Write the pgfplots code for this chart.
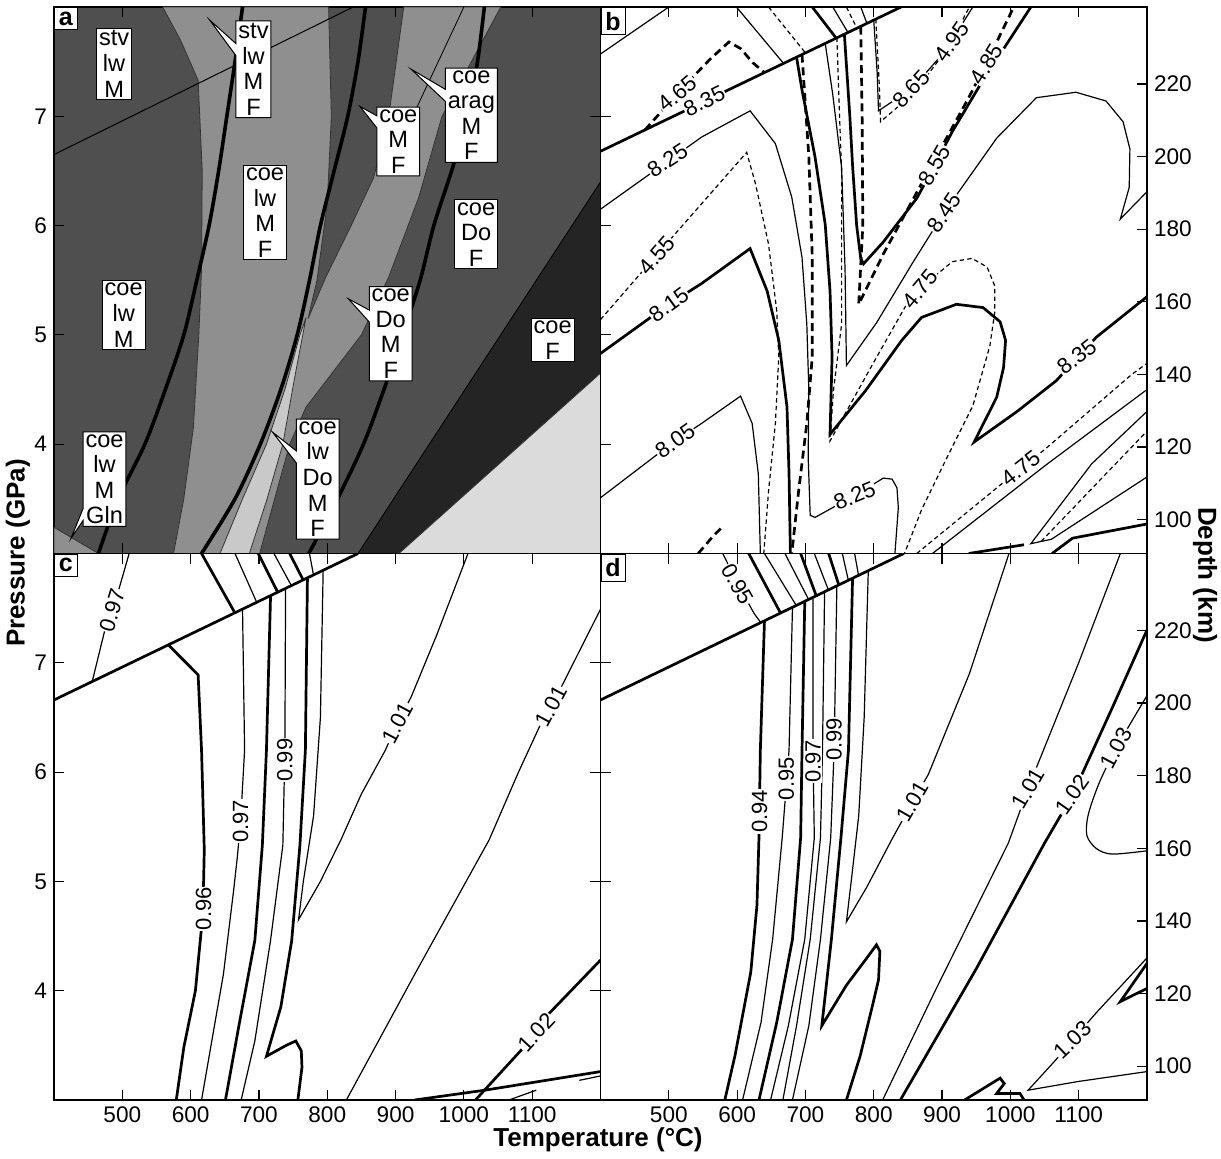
\documentclass[border=0pt]{standalone}
\usepackage{fontspec}
\setmainfont{Liberation Sans}
\usepackage{pgfplots}
\pgfplotsset{compat=1.18}
\usetikzlibrary{shapes.callouts}

\definecolor{cD}{gray}{0.31}
\definecolor{cM}{gray}{0.56}
\definecolor{cL}{gray}{0.79}
\definecolor{cX}{gray}{0.14}
\definecolor{cW}{gray}{0.86}

\newcommand\tf{\fontsize{11.3}{13}\selectfont}
\newcommand\lf{\fontsize{11}{13}\selectfont}
\newcommand\boxfont{\fontsize{11.8}{12.8}\selectfont}

\tikzset{
  thk/.style={black,line width=1.35pt},
  thn/.style={black,line width=0.6pt},
  thkd/.style={black,line width=1.35pt,dash pattern=on 4pt off 2.4pt},
  thnd/.style={black,line width=0.6pt,dash pattern=on 2.2pt off 1.6pt},
  cl/.style={fill=white,inner sep=0.4pt,font=\lf},
  ab/.style={draw=black,line width=0.5pt,fill=white,inner sep=1.2pt,align=center,font=\boxfont},
  co/.style={ab,rectangle callout,callout pointer width=6pt},
  pl/.style={draw=black,line width=0.5pt,fill=white,inner sep=2.2pt,font=\bfseries\fontsize{12.5}{13}\selectfont,anchor=north west},
}

\pgfplotsset{
  panel/.style={width=273.25pt,height=273.25pt,scale only axis,
    xmin=400,xmax=1200,ymin=3,ymax=8,
    xtick={500,600,...,1100},ytick={4,5,6,7},
    tick align=inside,major tick length=5pt,
    tick style={black,line width=0.6pt},
    axis line style={black,line width=0.9pt},
    ticklabel style={font=\tf},
    /pgf/number format/assume math mode=true,
    /pgf/number format/1000 sep={},
    xtick pos=both,ytick pos=both,
    xticklabel pos=lower,yticklabel pos=left},
  depth/.style={width=273.25pt,height=273.25pt,scale only axis,
    xmin=400,xmax=1200,ymin=90.67,ymax=241.2,
    hide x axis,axis y line*=right,
    ytick={100,120,...,220},
    tick align=inside,major tick length=5pt,
    tick style={black,line width=0.6pt},
    axis line style={black,line width=0.9pt},
    ticklabel style={font=\tf},
    /pgf/number format/assume math mode=true},
}

\begin{document}
\begin{tikzpicture}
\path[use as bounding box] (-27pt,-29pt) rectangle (583.5pt,550pt);

% ---------------- Panel a ----------------
\begin{axis}[panel,at={(0pt,273.25pt)},anchor=south west,xticklabels={},
  axis background/.style={fill=cD}]
\addplot[fill=cM,draw=black!80,line width=0.4pt] coordinates {
 (575,3.0) (590,3.5) (604,4.15) (612,5.0) (616,5.6) (617,6.5) (611,7.33) (585,7.7) (559,8.0)
 (802,8.0) (806,7.0) (800,6.2) (785,5.5) (772,5.15)
 (798,5.53) (835,6.0) (868,6.44) (890,7.0) (912,8.0)
 (1054,8.0) (968,7.0) (934,6.26) (890,5.53) (850,5.0) (769,4.34) (745,4.0) (701,3.0)} --cycle;
\addplot[fill=cL,draw=black!80,line width=0.4pt] coordinates {
 (643,3.0) (676,3.5) (711,4.0) (738,4.5) (760,5.0) (769,5.16) (752,4.6) (735,4.0) (712,3.5) (686,3.0)} --cycle;
\addplot[fill=cM,draw=black!80,line width=0.4pt] coordinates {(400,3.0) (400,3.24) (465,3.0)} --cycle;
\addplot[fill=cX,draw=black,line width=0.4pt] coordinates {(845,3.0) (1200,6.4) (1200,3.0)} --cycle;
\addplot[fill=cW,draw=black!80,line width=0.4pt] coordinates {(905,3.0) (1200,4.65) (1200,3.0)} --cycle;
\addplot[black,line width=0.5pt] coordinates {(400,6.65) (838,8.0)};
\addplot[black,line width=0.4pt] coordinates {(1000,8.0) (925,7.0)};
\addplot[black,line width=1.8pt,smooth] coordinates {(465,3.0) (494,3.5) (533,4.0) (563,4.5) (590,5.0) (609,5.5) (627,6.0) (641,6.5) (653,7.0) (665,7.5) (676,8.0)};
\addplot[black,line width=1.8pt,smooth] coordinates {(616,3.0) (665,3.5) (702,4.0) (732,4.5) (756,5.0) (774,5.5) (790,6.0) (810,6.5) (830,7.0) (845,7.5) (856,8.0)};
\addplot[black,line width=1.8pt,smooth] coordinates {(773,3.0) (815,3.5) (853,4.0) (883,4.5) (910,5.0) (936,5.5) (956,6.0) (982,6.5) (1005,7.0) (1020,7.5) (1030,8.0)};
\node[ab] at (axis cs:488,7.48) {stv\\lw\\M};
\node[co,callout absolute pointer={(axis cs:628,7.88)}] at (axis cs:692,7.43) {stv\\lw\\M\\F};
\node[co,callout absolute pointer={(axis cs:848,7.09)}] at (axis cs:904,6.77) {coe\\M\\F};
\node[co,callout absolute pointer={(axis cs:923,7.43)}] at (axis cs:1011,7.01) {coe\\arag\\M\\F};
\node[ab] at (axis cs:709,6.12) {coe\\lw\\M\\F};
\node[ab] at (axis cs:1018,5.92) {coe\\Do\\F};
\node[ab] at (axis cs:502,5.18) {coe\\lw\\M};
\node[co,callout absolute pointer={(axis cs:831,5.33)}] at (axis cs:893,5.01) {coe\\Do\\M\\F};
\node[ab] at (axis cs:1130,4.95) {coe\\F};
\node[co,callout absolute pointer={(axis cs:425,3.14)}] at (axis cs:474,3.68) {coe\\lw\\M\\Gln};
\node[co,callout absolute pointer={(axis cs:720,4.11)}] at (axis cs:786,3.68) {coe\\lw\\Do\\M\\F};
\node[pl] at (rel axis cs:0,1) {a};
\end{axis}

% ---------------- Panel b ----------------
\begin{axis}[panel,at={(273.25pt,273.25pt)},anchor=south west,xticklabels={},yticklabels={},ytick pos=left]
\addplot[thk] coordinates {(400,6.68) (840,8.0)};
\addplot[thkd] coordinates {(465,6.875) (520,7.26) (560,7.52) (588,7.68) (605,7.62) (623,7.49) (640,7.40)};
\addplot[thn] coordinates {(400,7.57) (500,8.0)};
\addplot[thn] coordinates {(599,8.0) (668,7.484)};
\addplot[thnd] coordinates {(646,8.0) (700,7.58)};
\addplot[thk] coordinates {(710,8.0) (745,7.715)};
\addplot[thn] coordinates {(740,8.0) (762,7.77)};
\addplot[thnd] coordinates {(760,8.0) (775,7.81)};
\addplot[thn] coordinates {(781,8.0) (790,7.85)};
% V1 8.25
\addplot[thn] coordinates {(400,6.15) (548,6.81) (619,7.05) (656,6.75) (680,6.26) (695,5.71) (702,5.10) (705,4.49) (704,3.88) (707,3.35) (714,3.33) (740,3.42) (778,3.55) (814,3.69) (827,3.68) (834,3.6) (836,3.42) (831,3.0)};
% V2 4.55
\addplot[thnd] coordinates {(400,5.14) (482,5.73) (548,6.2) (614,6.67) (627,6.38) (646,5.83) (658,5.22) (661,4.8) (656,4.19) (646,3.57) (639,3.0)};
% V3 8.15
\addplot[thk] coordinates {(400,4.83) (500,5.28) (548,5.47) (619,5.79) (644,5.4) (661,4.95) (673,4.34) (676,3.73) (678,3.0)};
% V4 8.05
\addplot[thn] coordinates {(400,3.51) (509,4.03) (548,4.19) (605,4.44) (622,4.19) (631,3.73) (634,3.0)};
% TD1
\addplot[thkd] coordinates {(695,7.565) (705,6.63) (710,5.71) (710,4.8) (702,4.19) (690,3.57) (680,3.0)};
% TS1 + 8.35 loop
\addplot[thk] coordinates {(687,7.54) (695,7.24) (714,6.63) (729,6.01) (736,5.40) (739,4.8) (736,4.09) (788,4.49) (841,4.95) (870,5.16) (921,5.28) (960,5.25) (985,5.12) (993,4.95) (990,4.7) (980,4.43) (947,4.02) (1010,4.30) (1067,4.58) (1126,4.98) (1200,5.35)};
% 8.45
\addplot[thn] coordinates {(729,7.665) (740,7.2) (753,6.53) (758,5.6) (760,4.72) (804,5.11) (857,5.66) (903,6.12) (980,6.8) (1038,7.17) (1096,7.22) (1140,7.14) (1165,6.95) (1175,6.7) (1174,6.35) (1161,6.06) (1200,6.31)};
% 4.75 dashed loop
\addplot[thnd] coordinates {(746,7.72) (750,7.0) (753,6.47) (753,5.1) (741,4.49) (736,4.03) (760,4.3) (800,4.75) (850,5.3) (886,5.52) (915,5.67) (944,5.7) (966,5.62) (977,5.45) (977,5.2) (970,4.9) (945,4.35) (905,3.85) (870,3.4) (845,3.0)};
% 8.55
\addplot[thk] coordinates {(757,7.75) (765,7.0) (769,6.55) (775,6.0) (781,5.7) (785,5.65) (814,5.85) (863,6.25) (889,6.55) (915,6.86) (956,7.29) (1030,8.0)};
% 4.85
\addplot[thkd] coordinates {(781,7.82) (783,7.0) (784,6.0) (778,5.28) (814,5.74) (874,6.43) (939,7.17) (962,7.45) (1005,8.0)};
% 8.65 / 4.95
\addplot[thn] coordinates {(800,7.88) (805,7.4) (807,7.05) (857,7.26) (905,7.6) (945,8.0)};
\addplot[thnd] coordinates {(803,7.89) (808,7.3) (810,6.95) (860,7.22) (909,7.63) (940,8.0)};
% lower right
\addplot[thnd] coordinates {(863,3.0) (980,3.6) (1015,3.78) (1050,3.95) (1178,4.64) (1200,4.74)};
\addplot[thn] coordinates {(886,3.0) (1050,3.8) (1200,4.5)};
\addplot[thn] coordinates {(1200,4.3) (1119,3.82) (1030,3.09) (1060,3.13) (1200,3.7)};
\addplot[thnd] coordinates {(1045,3.11) (1200,4.12)};
\addplot[thk] coordinates {(1061,3.0) (1091,3.14) (1200,3.27)};
\addplot[thk] coordinates {(939,3.0) (1020,3.08)};
\addplot[thkd] coordinates {(543,3.0) (565,3.16) (578,3.24)};
\node[cl,rotate=40] at (axis cs:512,7.21) {4.65};
\node[cl,rotate=26] at (axis cs:552,7.14) {8.35};
\node[cl,rotate=33] at (axis cs:498,6.60) {8.25};
\node[cl,rotate=49] at (axis cs:482,5.73) {4.55};
\node[cl,rotate=36] at (axis cs:500,5.28) {8.15};
\node[cl,rotate=35] at (axis cs:509,4.03) {8.05};
\node[cl,rotate=22] at (axis cs:772,3.53) {8.25};
\node[cl,rotate=38] at (axis cs:1097,4.80) {8.35};
\node[cl,rotate=50] at (axis cs:868,5.42) {4.75};
\node[cl,rotate=38] at (axis cs:1015,3.78) {4.75};
\node[cl,rotate=56] at (axis cs:903,6.12) {8.45};
\node[cl,rotate=60] at (axis cs:889,6.55) {8.55};
\node[cl,rotate=58] at (axis cs:965,7.48) {4.85};
\node[cl,rotate=48] at (axis cs:855,7.25) {8.65};
\node[cl,rotate=55] at (axis cs:914,7.68) {4.95};
\node[pl] at (rel axis cs:0,1) {b};
\end{axis}
\begin{axis}[depth,at={(273.25pt,273.25pt)},anchor=south west]
\addplot[draw=none] coordinates {(500,150)};
\end{axis}

% ---------------- Panel c ----------------
\begin{axis}[panel,at={(0pt,0pt)},anchor=south west]
\addplot[thk] coordinates {(400,6.66) (845,8.0)};
\addplot[thk] coordinates {(616,8.0) (665,7.455)};
\addplot[thn] coordinates {(665,8.0) (697,7.55)};
\addplot[thk] coordinates {(699,8.0) (728,7.64)};
\addplot[thn] coordinates {(722,8.0) (748,7.70)};
\addplot[thk] coordinates {(745,8.0) (765,7.755)};
\addplot[thn] coordinates {(774,8.0) (780,7.80)};
\addplot[thn] coordinates {(456,6.83) (476,7.34) (488,7.52) (510,8.0)};
\addplot[thk] coordinates {(568,7.16) (611,6.89) (616,6.2) (620,5.29) (619,5.0) (616,4.58) (607,4.0) (590,3.48) (579,3.0)};
\addplot[thn] coordinates {(676,7.49) (679,6.2) (673,5.53) (668,5.2) (663,4.92) (648,4.15) (631,3.54) (616,3.0)};
\addplot[thk] coordinates {(717,7.61) (711,6.2) (705,5.33) (694,4.46) (671,3.69) (651,3.0)};
\addplot[thn] coordinates {(739,7.68) (738,6.2) (735,5.33) (717,4.46) (694,3.54) (674,3.0)};
\addplot[thk] coordinates {(771,7.77) (768,6.2) (760,5.33) (748,4.46) (732,3.85) (711,3.4) (740,3.5) (754,3.54) (762,3.45) (763,3.3) (757,3.0)};
\addplot[thn] coordinates {(794,7.84) (790,6.5) (780,5.6) (765,5.0) (758,4.65) (790,5.0) (820,5.38) (850,5.8) (885,6.2) (903,6.45) (923,6.69) (960,7.25) (1006,8.0)};
\addplot[thn] coordinates {(828,3.0) (928,4.15) (1037,5.38) (1080,6.0) (1111,6.42) (1128,6.6) (1146,6.82) (1200,7.49)};
\addplot[thk] coordinates {(1017,3.0) (1083,3.45) (1106,3.62) (1123,3.78) (1200,4.28)};
\addplot[thk] coordinates {(928,3.0) (1031,3.09) (1200,3.26)};
\addplot[thn] coordinates {(1066,3.0) (1106,3.09)};
\addplot[thn] coordinates {(1169,3.18) (1200,3.22)};
\node[cl,rotate=73] at (axis cs:485,7.48) {0.97};
\node[cl,rotate=90] at (axis cs:619,4.75) {0.96};
\node[cl,rotate=90] at (axis cs:673,5.55) {0.97};
\node[cl,rotate=90] at (axis cs:738,6.11) {0.99};
\node[cl,rotate=62] at (axis cs:903,6.45) {1.01};
\node[cl,rotate=62] at (axis cs:1128,6.60) {1.01};
\node[cl,rotate=47] at (axis cs:1106,3.62) {1.02};
\node[pl] at (rel axis cs:0,1) {c};
\end{axis}

% ---------------- Panel d ----------------
\begin{axis}[panel,at={(273.25pt,0pt)},anchor=south west,yticklabels={},ytick pos=left]
\addplot[thk] coordinates {(400,6.66) (844,8.0)};
\addplot[thn] coordinates {(579,8.0) (601,7.72) (625,7.45) (635,7.365)};
\addplot[thk] coordinates {(617,8.0) (664,7.45)};
\addplot[thn] coordinates {(640,8.0) (687,7.52)};
\addplot[thn] coordinates {(670,8.0) (705,7.575)};
\addplot[thk] coordinates {(693,8.0) (716,7.61)};
\addplot[thn] coordinates {(713,8.0) (734,7.66)};
\addplot[thk] coordinates {(734,8.0) (749,7.71)};
\addplot[thn] coordinates {(754,8.0) (763,7.75)};
\addplot[thn] coordinates {(772,8.0) (778,7.79)};
\addplot[thk] coordinates {(640,7.38) (634,6.2) (632,5.4) (629,4.78) (620,4.17) (597,3.41) (582,3.0)};
\addplot[thn] coordinates {(681,7.50) (676,6.2) (666,5.4) (652,4.47) (635,3.71) (608,3.0)};
\addplot[thk] coordinates {(699,7.56) (695,6.2) (693,5.4) (681,4.47) (658,3.71) (632,3.0)};
\addplot[thn] coordinates {(711,7.59) (711,6.2) (713,5.4) (699,4.47) (675,3.68) (649,3.0)};
\addplot[thn] coordinates {(728,7.64) (725,6.2) (722,5.4) (707,4.47) (687,3.68) (667,3.0)};
\addplot[thn] coordinates {(746,7.70) (742,6.2) (737,5.4) (722,4.47) (705,3.68) (681,3.0)};
\addplot[thk] coordinates {(769,7.77) (763,6.2) (752,5.4) (738,4.47) (724,3.68) (760,4.05) (790,4.3) (804,4.42) (809,4.36) (807,4.1) (798,3.86) (780,3.4) (760,3.0)};
\addplot[thn] coordinates {(792,7.84) (786,6.5) (778,5.6) (767,5.0) (760,4.63) (790,4.95) (827,5.39) (857,5.73) (880,5.98) (940,6.9) (998,8.0)};
\addplot[thn] coordinates {(813,3.0) (890,4.0) (997,5.35) (1026,5.85) (1040,6.07) (1100,7.0) (1161,8.0)};
\addplot[thk] coordinates {(839,3.0) (950,4.2) (1050,5.35) (1091,5.79) (1150,6.6) (1200,7.3)};
\addplot[thn,smooth] coordinates {(1200,6.7) (1155,6.22) (1130,5.9) (1114,5.61) (1112,5.42) (1126,5.3) (1149,5.25) (1200,5.28)};
\addplot[thn] coordinates {(1200,4.3) (1126,3.8) (1091,3.55) (1067,3.37) (1026,3.09) (1100,3.17) (1200,3.26)};
\addplot[thk] coordinates {(933,3.0) (985,3.2) (991,3.15) (980,3.06) (1014,3.06) (1020,3.0)};
\addplot[thk] coordinates {(1200,4.25) (1161,3.9) (1190,3.99) (1200,4.02)};
\node[cl,rotate=-60] at (axis cs:601,7.72) {0.95};
\node[cl,rotate=90] at (axis cs:633,5.64) {0.94};
\node[cl,rotate=90] at (axis cs:672,5.94) {0.95};
\node[cl,rotate=90] at (axis cs:711,6.10) {0.97};
\node[cl,rotate=90] at (axis cs:742,6.30) {0.99};
\node[cl,rotate=60] at (axis cs:857,5.73) {1.01};
\node[cl,rotate=60] at (axis cs:1026,5.85) {1.01};
\node[cl,rotate=55] at (axis cs:1091,5.79) {1.02};
\node[cl,rotate=62] at (axis cs:1155,6.22) {1.03};
\node[cl,rotate=44] at (axis cs:1091,3.55) {1.03};
\node[pl] at (rel axis cs:0,1) {d};
\end{axis}
\begin{axis}[depth,at={(273.25pt,0pt)},anchor=south west]
\addplot[draw=none] coordinates {(500,150)};
\end{axis}

\node[rotate=90,font=\bfseries\fontsize{13}{15}\selectfont] at (-18pt,273.5pt) {Pressure (GPa)};
\node[font=\bfseries\fontsize{13}{15}\selectfont] at (272pt,-20pt) {Temperature (°C)};
\node[rotate=-90,font=\bfseries\fontsize{13}{15}\selectfont] at (575.5pt,262.5pt) {Depth (km)};
\end{tikzpicture}
\end{document}
